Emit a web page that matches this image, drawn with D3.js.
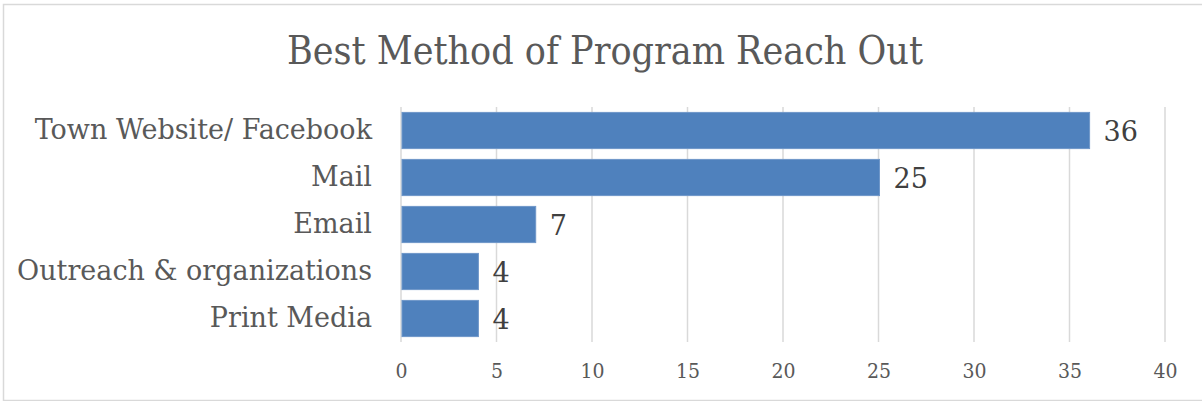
<!DOCTYPE html>
<html>
<head>
<meta charset="utf-8">
<script src="https://cdn.jsdelivr.net/npm/d3@7"></script>
<style>
  body { margin: 0; background: #fff; }
  svg { display: block; }
  .cond { font-stretch: condensed; }
</style>
</head>
<body>
<div class="chart"></div>
<script>
const categories = ["Town Website/ Facebook", "Mail", "Email", "Outreach & organizations", "Print Media"];
const values = [36, 25, 7, 4, 4];
const ticks = [0, 5, 10, 15, 20, 25, 30, 35, 40];

const width = 1202;
const height = 401;
const font = "'DejaVu Serif', 'Liberation Serif', serif";
const condFont = "'DejaVu Serif Condensed', 'DejaVu Serif', serif";
const textColor = "#595959";

const svg = d3
  .select(".chart")
  .append("svg")
  .attr("width", width)
  .attr("height", height);

// outer frame
svg
  .append("rect")
  .attr("x", 3.5)
  .attr("y", 4.5)
  .attr("width", width)
  .attr("height", height - 5)
  .attr("fill", "#fff")
  .attr("stroke", "#d9d9d9")
  .attr("stroke-width", 1.5);

const xScale = d3.scaleLinear().domain([0, 40]).range([401, 1165]);
const yScale = d3
  .scaleBand()
  .domain(categories)
  .range([107, 342])
  .paddingInner(0.23)
  .paddingOuter(0.115);

// gridlines
svg
  .append("g")
  .selectAll("line")
  .data(ticks)
  .enter()
  .append("line")
  .attr("x1", (d) => xScale(d))
  .attr("x2", (d) => xScale(d))
  .attr("y1", 107)
  .attr("y2", 342)
  .attr("stroke", "#d9d9d9")
  .attr("stroke-width", 1.5);

// x axis labels
const xAxis = svg
  .append("g")
  .attr("transform", "translate(0, 342)")
  .call(d3.axisBottom(xScale).tickValues(ticks).tickSize(0).tickPadding(21));
xAxis.select(".domain").remove();
xAxis
  .selectAll(".tick text")
  .attr("class", "cond")
  .attr("font-family", condFont)
  .attr("font-size", 21)
  .attr("fill", textColor);

// category labels
const yAxis = svg
  .append("g")
  .attr("transform", "translate(401, 0)")
  .call(d3.axisLeft(yScale).tickSize(0).tickPadding(29));
yAxis.select(".domain").remove();
yAxis
  .selectAll(".tick text")
  .attr("font-family", font)
  .attr("font-size", 27)
  .attr("fill", textColor);

// bars
svg
  .append("g")
  .selectAll("rect")
  .data(values)
  .enter()
  .append("rect")
  .attr("x", xScale(0) + 1)
  .attr("y", (d, i) => yScale(categories[i]))
  .attr("width", (d) => xScale(d) - xScale(0))
  .attr("height", yScale.bandwidth())
  .attr("fill", "#4f81bd")
  .attr("stroke", "#6f97c9")
  .attr("stroke-width", 1);

// value labels
svg
  .append("g")
  .selectAll("text")
  .data(values)
  .enter()
  .append("text")
  .attr("x", (d) => xScale(d) + 15)
  .attr("y", (d, i) => yScale(categories[i]) + yScale.bandwidth() / 2)
  .attr("dy", "0.38em")
  .attr("font-family", font)
  .attr("font-size", 27)
  .attr("fill", "#404040")
  .text((d) => d);

// title
svg
  .append("text")
  .attr("class", "cond")
  .attr("x", 605)
  .attr("y", 64)
  .attr("text-anchor", "middle")
  .attr("font-family", condFont)
  .attr("font-size", 39)
  .attr("fill", textColor)
  .text("Best Method of Program Reach Out");
</script>
</body>
</html>
